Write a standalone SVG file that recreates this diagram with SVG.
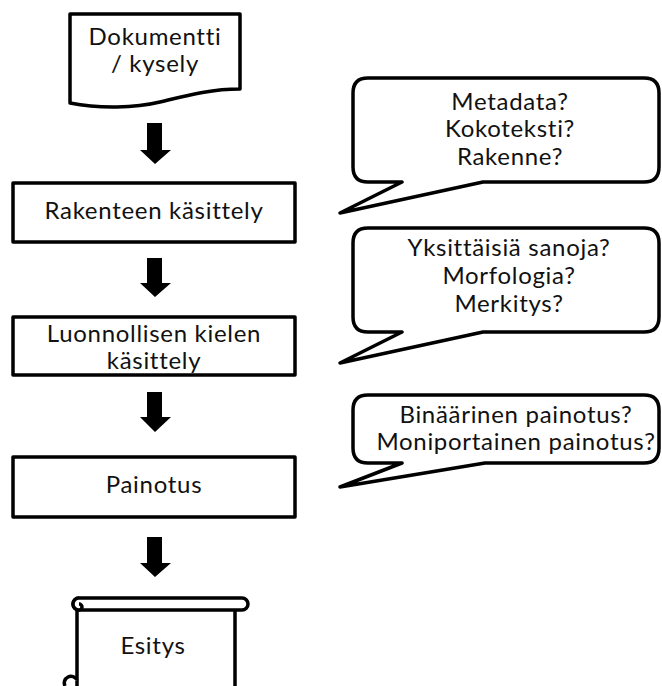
<svg xmlns="http://www.w3.org/2000/svg" width="662" height="686" viewBox="0 0 662 686">
<style>
.sh{fill:#fff;stroke:#000;stroke-width:3.5;stroke-linejoin:round}
.t{font-family:Lato,"Liberation Sans",sans-serif;font-size:24px;letter-spacing:0.7px;fill:#111;text-anchor:middle}
.arr{fill:#000}
</style>
<rect width="662" height="686" fill="#fff"/>
<g id="dokumentti">
<path class="sh" d="M70,14 H240 V89 C210,89 185,96 160,102 C135,108 100,109 70,103 Z"/>
<text class="t" x="155" y="45">Dokumentti</text>
<text class="t" x="155" y="72">/ kysely</text>
</g>
<g id="rakenteen">
<rect class="sh" x="13" y="183" width="282" height="59"/>
<text class="t" x="154" y="219">Rakenteen käsittely</text>
</g>
<g id="luonnollisen">
<rect class="sh" x="13" y="317" width="282" height="58"/>
<text class="t" x="154" y="342">Luonnollisen kielen</text>
<text class="t" x="154" y="369">käsittely</text>
</g>
<g id="painotus">
<rect class="sh" x="13" y="457" width="282" height="60"/>
<text class="t" x="154" y="493">Painotus</text>
</g>
<g id="esitys">
<rect class="sh" x="77" y="604" width="158" height="100"/>
<rect class="sh" x="73" y="598" width="175" height="12" rx="6"/>
<path class="sh" d="M79,598 A6,6 0 0 0 79,610 A3,3 0 0 0 79,604" fill="none"/>
<path class="sh" d="M77,680 A6,6 0 0 0 65,686" fill="none"/>
<text class="t" x="153" y="654">Esitys</text>
</g>
<g id="kupla1">
<path class="sh" d="M368,78 H644 Q659,78 659,93 V167 Q659,182 644,182 H483 L340,213 L402,182 H368 Q353,182 353,167 V93 Q353,78 368,78 Z"/>
<text class="t" x="510" y="110">Metadata?</text>
<text class="t" x="510" y="137">Kokoteksti?</text>
<text class="t" x="510" y="165">Rakenne?</text>
</g>
<g id="kupla2">
<path class="sh" d="M368,228 H644 Q659,228 659,243 V317 Q659,332 644,332 H483 L340,363 L402,332 H368 Q353,332 353,317 V243 Q353,228 368,228 Z"/>
<text class="t" x="509" y="256">Yksittäisiä sanoja?</text>
<text class="t" x="509" y="284">Morfologia?</text>
<text class="t" x="509" y="312">Merkitys?</text>
</g>
<g id="kupla3">
<path class="sh" d="M368,395 H644 Q659,395 659,410 V448 Q659,463 644,463 H485 L340,487 L402,463 H368 Q353,463 353,448 V410 Q353,395 368,395 Z"/>
<text class="t" x="516" y="423">Binäärinen painotus?</text>
<text class="t" x="516" y="450">Moniportainen painotus?</text>
</g>
<g id="connectors">
<path class="arr" d="M147,123 H162 V150 H171 L155,164 L140,150 H147 Z"/>
<path class="arr" d="M147,258 H162 V283 H171 L155,297 L140,283 H147 Z"/>
<path class="arr" d="M147,392 H162 V417 H171 L155,432 L140,417 H147 Z"/>
<path class="arr" d="M147,537 H162 V563 H171 L155,577 L140,563 H147 Z"/>
</g>
</svg>
